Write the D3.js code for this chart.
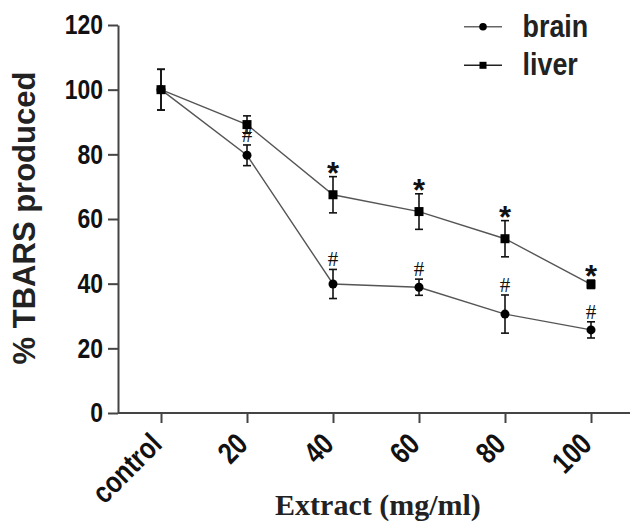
<!DOCTYPE html>
<html>
<head>
<meta charset="utf-8">
<script src="https://cdn.jsdelivr.net/npm/d3@7/dist/d3.min.js"></script>
<style>
  html, body { margin: 0; padding: 0; background: #fff; }
  svg { display: block; }
</style>
</head>
<body>
<div id="chart"></div>
<script>
// data
const categories = ['control', '20', '40', '60', '80', '100'];
const brainMean = [100, 79.7, 39.9, 38.9, 30.6, 25.7];
const brainErr = [6.3, 3.2, 4.5, 2.5, 5.9, 2.5];
const liverMean = [100, 89.2, 67.5, 62.3, 53.9, 39.8];
const liverErr = [6.3, 2.7, 5.6, 5.5, 5.6, 1.3];
const brainMarks = ['', '#', '#', '#', '#', '#'];
const liverMarks = ['', '', '*', '*', '*', '*'];
const yTicks = [0, 20, 40, 60, 80, 100, 120];

const width = 630;
const height = 527;
const LINE_COLOR = '#555';
const AXIS_COLOR = '#444';
const SANS = '"Liberation Sans", Arial, sans-serif';
const SERIF = '"Liberation Serif", "Times New Roman", serif';
const NARROW = 0.82; // original type looks squeezed sideways

const svg = d3.select('#chart')
  .append('svg')
  .attr('width', width)
  .attr('height', height);

const x = d3.scalePoint()
  .domain(categories)
  .range([118, 634])
  .padding(0.5);

const y = d3.scaleLinear()
  .domain([0, 120])
  .range([413, 25]);

// axes
const xAxis = svg.append('g')
  .attr('transform', `translate(0,${y(0)})`)
  .call(d3.axisBottom(x).tickSize(10).tickSizeOuter(0));

xAxis.select('.domain').attr('d', `M118,0H634`);

xAxis.selectAll('.tick text')
  .attr('y', null)
  .attr('dy', null)
  .attr('text-anchor', 'end')
  .attr('transform', `translate(2,33) rotate(-45) scale(${NARROW},1)`)
  .style('font-family', SANS)
  .style('font-weight', 'bold')
  .style('font-size', '30px')
  .style('fill', '#111');

const yAxis = svg.append('g')
  .attr('transform', `translate(${x.range()[0]},0)`)
  .call(d3.axisLeft(y).tickValues(yTicks).tickSize(10).tickSizeOuter(0));

yAxis.selectAll('.tick text')
  .attr('x', null)
  .attr('transform', `translate(-15,0) scale(${NARROW},1)`)
  .style('font-family', SANS)
  .style('font-weight', 'bold')
  .style('font-size', '28px')
  .style('fill', '#111');

svg.selectAll('.domain, .tick line')
  .attr('stroke', AXIS_COLOR)
  .attr('stroke-width', 2);

// axis titles
svg.append('text')
  .attr('transform', 'translate(35,218) rotate(-90)')
  .attr('text-anchor', 'middle')
  .style('font-family', SANS)
  .style('font-weight', 'bold')
  .style('font-size', '31px')
  .style('fill', '#222')
  .text('% TBARS produced');

svg.append('text')
  .attr('x', 378)
  .attr('y', 515)
  .attr('text-anchor', 'middle')
  .style('font-family', SERIF)
  .style('font-weight', 'bold')
  .style('font-size', '30px')
  .style('fill', '#222')
  .text('Extract (mg/ml)');

// series
const series = [
  { name: 'brain', mean: brainMean, err: brainErr, marks: brainMarks, shape: 'circle' },
  { name: 'liver', mean: liverMean, err: liverErr, marks: liverMarks, shape: 'square' }
];

const line = d3.line()
  .x((d, i) => x(categories[i]))
  .y(d => y(d));

series.forEach(s => {
  const g = svg.append('g').attr('class', 'series-' + s.name);

  g.append('path')
    .datum(s.mean)
    .attr('d', line)
    .attr('fill', 'none')
    .attr('stroke', LINE_COLOR)
    .attr('stroke-width', 1.4);

  // error bars
  const bars = g.selectAll('.err')
    .data(s.mean)
    .enter()
    .append('g')
    .attr('class', 'err')
    .attr('stroke', '#111')
    .attr('stroke-width', 1.6);

  bars.append('line')
    .attr('x1', (d, i) => x(categories[i]))
    .attr('x2', (d, i) => x(categories[i]))
    .attr('y1', (d, i) => y(d + s.err[i]))
    .attr('y2', (d, i) => y(d - s.err[i]));

  [1, -1].forEach(sign => {
    bars.append('line')
      .attr('x1', (d, i) => x(categories[i]) - 4)
      .attr('x2', (d, i) => x(categories[i]) + 4)
      .attr('y1', (d, i) => y(d + sign * s.err[i]))
      .attr('y2', (d, i) => y(d + sign * s.err[i]));
  });

  // markers
  if (s.shape === 'circle') {
    g.selectAll('.pt')
      .data(s.mean)
      .enter()
      .append('circle')
      .attr('cx', (d, i) => x(categories[i]))
      .attr('cy', d => y(d))
      .attr('r', 4.5)
      .attr('fill', '#000');
  } else {
    g.selectAll('.pt')
      .data(s.mean)
      .enter()
      .append('rect')
      .attr('x', (d, i) => x(categories[i]) - 4.5)
      .attr('y', d => y(d) - 4.5)
      .attr('width', 9)
      .attr('height', 9)
      .attr('fill', '#000');
  }

  // significance marks
  g.selectAll('.mark')
    .data(s.mean)
    .enter()
    .append('text')
    .attr('x', (d, i) => x(categories[i]))
    .attr('y', (d, i) => {
      const top = y(d + s.err[i]);
      return s.marks[i] === '*' ? top + 7 : top - 3;
    })
    .attr('text-anchor', 'middle')
    .style('font-family', (d, i) => s.marks[i] === '*' ? SANS : SERIF)
    .style('font-weight', (d, i) => s.marks[i] === '*' ? 'bold' : 'normal')
    .style('font-size', (d, i) => s.marks[i] === '*' ? '31px' : '21px')
    .style('fill', '#111')
    .text((d, i) => s.marks[i]);
});

// legend
const legend = svg.append('g').attr('class', 'legend');
const legendRows = [
  { name: 'brain', shape: 'circle', y: 26.7, color: '#666' },
  { name: 'liver', shape: 'square', y: 65.3, color: '#222' }
];

legendRows.forEach(r => {
  legend.append('line')
    .attr('x1', 464)
    .attr('x2', 502)
    .attr('y1', r.y)
    .attr('y2', r.y)
    .attr('stroke', r.color)
    .attr('stroke-width', 1.6);

  if (r.shape === 'circle') {
    legend.append('circle')
      .attr('cx', 483)
      .attr('cy', r.y)
      .attr('r', 3.8)
      .attr('fill', '#000');
  } else {
    legend.append('rect')
      .attr('x', 479.5)
      .attr('y', r.y - 3.5)
      .attr('width', 7)
      .attr('height', 7)
      .attr('fill', '#000');
  }

  legend.append('text')
    .attr('transform', `translate(522.5,${r.y + 10}) scale(0.84,1)`)
    .style('font-family', SANS)
    .style('font-weight', 'bold')
    .style('font-size', '32px')
    .style('fill', '#222')
    .text(r.name);
});
</script>
</body>
</html>
